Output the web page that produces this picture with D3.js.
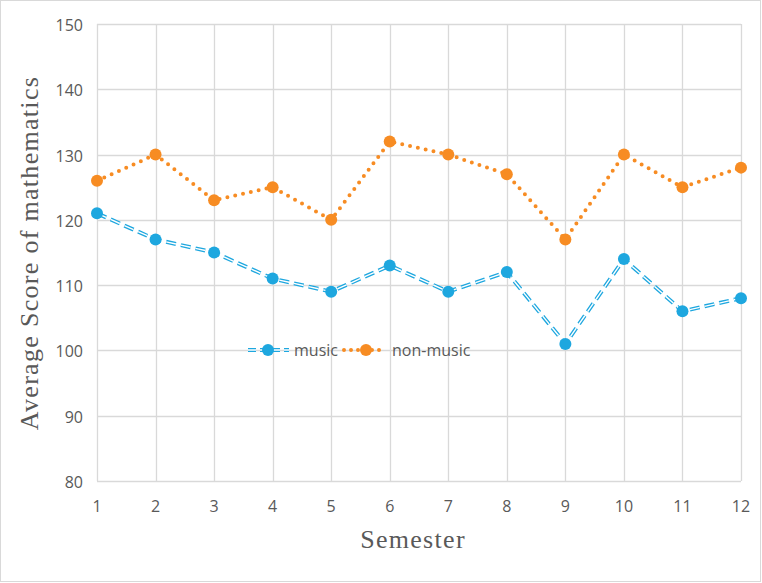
<!DOCTYPE html>
<html>
<head>
<meta charset="utf-8">
<script src="https://cdn.jsdelivr.net/npm/d3@7"></script>
<style>
  body { margin: 0; background: #fff; }
  svg { display: block; }
</style>
</head>
<body>
<div id="chart"></div>
<script>
const semesters = [1, 2, 3, 4, 5, 6, 7, 8, 9, 10, 11, 12];
const music = [121, 117, 115, 111, 109, 113, 109, 112, 101, 114, 106, 108];
const nonMusic = [126, 130, 123, 125, 120, 132, 130, 127, 117, 130, 125, 128];
const yTicks = [80, 90, 100, 110, 120, 130, 140, 150];

const W = 762, H = 583;
const blue = '#1ea7df', orange = '#f78c23', grid = '#d9d9d9', txt = '#595959';
const sans = '"Open Sans", "Noto Sans", sans-serif';
const serif = '"Liberation Serif", "Times New Roman", serif';

const svg = d3.select('#chart').append('svg')
  .attr('width', W).attr('height', H);

// chart border
svg.append('rect')
  .attr('x', 0.5).attr('y', 0.5)
  .attr('width', W - 2).attr('height', H - 2)
  .attr('fill', '#fff').attr('stroke', '#d9d9d9');

const x = d3.scaleLinear().domain([1, 12]).range([97, 741]);
const y = d3.scaleLinear().domain([80, 150]).range([481, 24]);

// gridlines
svg.append('g').selectAll('line')
  .data(yTicks)
  .join('line')
  .attr('x1', x(1)).attr('x2', x(12))
  .attr('y1', d => Math.round(y(d)) + 0.5).attr('y2', d => Math.round(y(d)) + 0.5)
  .attr('stroke', grid).attr('stroke-width', 1.3);

svg.append('g').selectAll('line')
  .data(semesters)
  .join('line')
  .attr('x1', d => Math.round(x(d)) + 0.5).attr('x2', d => Math.round(x(d)) + 0.5)
  .attr('y1', y(150)).attr('y2', y(80))
  .attr('stroke', grid).attr('stroke-width', 1.3);

// tick labels
svg.append('g').selectAll('text')
  .data(yTicks)
  .join('text')
  .attr('x', 83).attr('y', d => y(d) + 7)
  .attr('text-anchor', 'end')
  .attr('font-family', sans)
  .attr('font-size', 16).attr('fill', txt)
  .text(d => d);

svg.append('g').selectAll('text')
  .data(semesters)
  .join('text')
  .attr('x', d => x(d)).attr('y', 512)
  .attr('text-anchor', 'middle')
  .attr('font-family', sans)
  .attr('font-size', 16).attr('fill', txt)
  .text(d => d);

// axis titles
svg.append('text')
  .attr('transform', `translate(38,253) rotate(-90)`)
  .attr('text-anchor', 'middle')
  .attr('font-family', serif)
  .attr('font-size', 26).attr('letter-spacing', 1.3).attr('fill', txt)
  .text('Average Score of mathematics');

svg.append('text')
  .attr('x', 413).attr('y', 548)
  .attr('text-anchor', 'middle')
  .attr('font-family', serif)
  .attr('font-size', 26).attr('letter-spacing', 1.3).attr('fill', txt)
  .text('Semester');

const line = d3.line().x((d, i) => x(semesters[i])).y(d => y(d));

// music: hollow dashed line
svg.append('path')
  .attr('d', line(music))
  .attr('fill', 'none').attr('stroke', blue)
  .attr('stroke-width', 4).attr('stroke-dasharray', '10,5');
svg.append('path')
  .attr('d', line(music))
  .attr('fill', 'none').attr('stroke', '#fff')
  .attr('stroke-width', 1.4).attr('stroke-dasharray', '10,5');

// non-music: round dotted
svg.append('path')
  .attr('d', line(nonMusic))
  .attr('fill', 'none').attr('stroke', orange)
  .attr('stroke-width', 4).attr('stroke-linecap', 'round')
  .attr('stroke-dasharray', '0,8');

svg.append('g').selectAll('circle')
  .data(music)
  .join('circle')
  .attr('cx', (d, i) => x(semesters[i])).attr('cy', d => y(d))
  .attr('r', 6).attr('fill', blue);

svg.append('g').selectAll('circle')
  .data(nonMusic)
  .join('circle')
  .attr('cx', (d, i) => x(semesters[i])).attr('cy', d => y(d))
  .attr('r', 6).attr('fill', orange);

// legend
const legend = svg.append('g').attr('transform', 'translate(0,350)');
legend.append('line')
  .attr('x1', 248).attr('x2', 289)
  .attr('stroke', blue).attr('stroke-width', 4).attr('stroke-dasharray', '8,4');
legend.append('line')
  .attr('x1', 248).attr('x2', 289)
  .attr('stroke', '#fff').attr('stroke-width', 1.4).attr('stroke-dasharray', '8,4');
legend.append('circle').attr('cx', 268).attr('cy', 0).attr('r', 6).attr('fill', blue);
legend.append('text')
  .attr('x', 294).attr('y', 6)
  .attr('font-family', sans)
  .attr('font-size', 16).attr('fill', txt)
  .text('music');

legend.append('line')
  .attr('x1', 344).attr('x2', 386)
  .attr('stroke', orange).attr('stroke-width', 4).attr('stroke-linecap', 'round')
  .attr('stroke-dasharray', '0,7');
legend.append('circle').attr('cx', 366).attr('cy', 0).attr('r', 6).attr('fill', orange);
legend.append('text')
  .attr('x', 392).attr('y', 6)
  .attr('font-family', sans)
  .attr('font-size', 16).attr('fill', txt)
  .text('non-music');
</script>
</body>
</html>
